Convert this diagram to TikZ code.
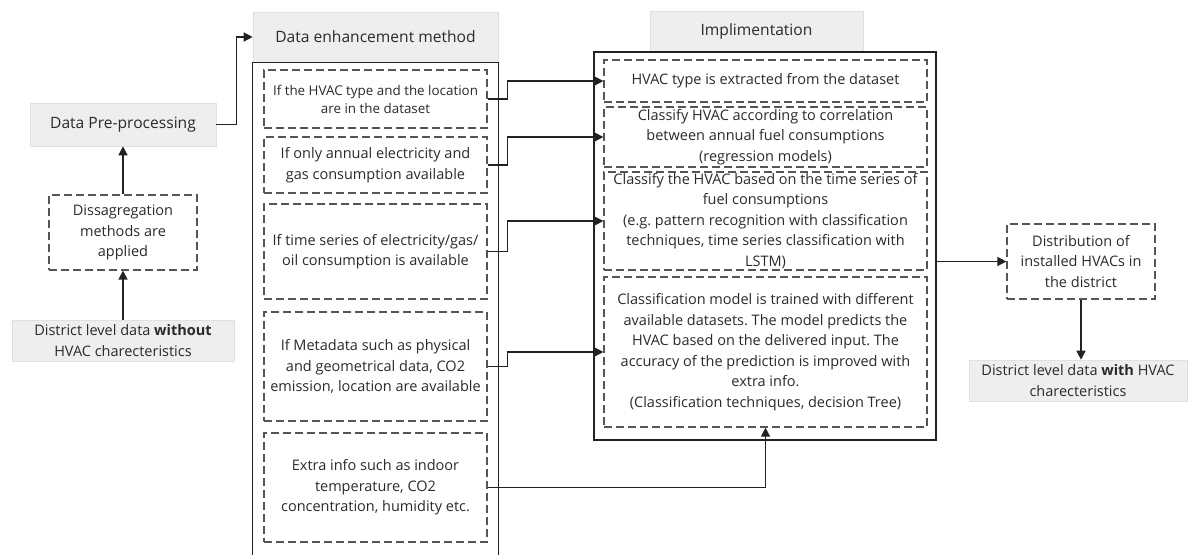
\documentclass[tikz,border=0pt]{standalone}
\usepackage{fontspec}
\setmainfont{Open Sans}
\usetikzlibrary{arrows.meta}
\frenchspacing
\definecolor{ink}{HTML}{2A2A2A}
\definecolor{panel}{HTML}{EEEEEE}
\definecolor{panelrule}{HTML}{E0E0E0}
\definecolor{dashink}{HTML}{555555}
\definecolor{wire}{HTML}{222222}
\tikzset{
  body/.style={font=\fontsize{14.5}{20.5}\selectfont, text=ink, align=center, inner sep=0pt},
  smallbody/.style={font=\fontsize{13.4}{18}\selectfont},
  head/.style={font=\fontsize{15.6}{20}\selectfont, text=ink, align=center, inner sep=0pt},
  panelbox/.style={fill=panel, draw=panelrule, line width=0.6pt},
  dashbox/.style={body, draw=dashink, line width=1.2pt, dash pattern=on 8pt off 4pt},
  frame/.style={draw=wire, line width=1.4pt},
  wirepath/.style={draw=wire, line width=1.4pt},
  feed/.style={wirepath, -{Triangle[length=9pt,width=9pt]}},
  boxsize/.style 2 args={minimum width=#1, minimum height=#2},
}
\begin{document}
\begin{tikzpicture}[x=1pt, y=-1pt]
\useasboundingbox (0,0) rectangle (1188,554);

% ---- input side ----
\node[panelbox, head, boxsize={186}{43}] (pre) at (123,124.5) {Data Pre-processing};
\node[dashbox, boxsize={148}{75}] (dis) at (123,232.5) {Dissagregation\\methods are\\applied};
\node[panelbox, body, boxsize={222}{41}] (wo) at (123,340.5)
  {District level data \textbf{without}\\HVAC charecteristics};

% ---- data enhancement column ----
\node[panelbox, head, boxsize={245}{50}] (hdr1) at (375.5,37) {Data enhancement method};
\draw[frame] (hdr1.south west |- 0,560) -- (hdr1.south west) -- (hdr1.south east) -- (hdr1.south east |- 0,560);

\node[dashbox, smallbody, boxsize={223}{58}] (l1) at (375.5,99)
  {If the HVAC type and the location\\are in the dataset};
\node[dashbox, boxsize={223}{56}] (l2) at (375.5,165)
  {If only annual electricity and\\gas consumption available};
\node[dashbox, boxsize={223}{95}] (l3) at (375.5,251.5)
  {If time series of electricity/gas/\\oil consumption is available};
\node[dashbox, boxsize={223}{109}] (l4) at (375.5,366.5)
  {If Metadata such as physical\\and geometrical data, CO2\\emission, location are available};
\node[dashbox, boxsize={223}{109}] (l5) at (375.5,487.5)
  {Extra info such as indoor\\temperature, CO2\\concentration, humidity etc.};

% ---- implementation column ----
\node[panelbox, head, boxsize={213}{41}] (hdr2) at (756.5,31.5) {Implimentation};
\node[frame, boxsize={342}{388}] (impl) at (765,246) {};

\node[dashbox, boxsize={323}{42}] (r1) at (765.5,81)
  {HVAC type is extracted from the dataset};
\node[dashbox, boxsize={323}{60}] (r2) at (765.5,137)
  {Classify HVAC according to correlation\\between annual fuel consumptions\\(regression models)};
\node[dashbox, boxsize={323}{98}] (r3) at (765.5,221)
  {Classify the HVAC based on the time series of\\fuel consumptions\\(e.g. pattern recognition with classification\\techniques, time series classification with\\LSTM)};
\node[dashbox, boxsize={323}{150}] (r4) at (765.5,352)
  {Classification model is trained with different\\available datasets. The model predicts the\\HVAC based on the delivered input. The\\accuracy of the prediction is improved with\\extra info.\\(Classification techniques, decision Tree)};

% ---- output side ----
\node[dashbox, boxsize={148}{75}] (dist) at (1081,261.5)
  {Distribution of\\installed HVACs in\\the district};
\node[panelbox, body, boxsize={218}{41}] (wi) at (1078,380.5)
  {District level data \textbf{with} HVAC\\charecteristics};

% ---- connectors ----
\draw[feed] (wo.north) -- (dis.south);
\draw[feed] (dis.north) -- (pre.south);
\draw[feed] (pre.east) -- ++(20,0) |- (hdr1.west);

\draw[feed] (l1.east) -- ++(20,0) |- (r1.west);
\draw[feed] (l2.east) -- ++(20,0) |- (r2.west);
\draw[feed] (l3.east) -- ++(20,0) |- (r3.west);
\draw[feed] (l4.east) -- ++(20,0) |- (r4.west);
\draw[feed] (l5.east) -| (r4.south);

\draw[feed] (impl.east |- dist.west) -- (dist.west);
\draw[feed] (dist.south) -- (dist.south |- wi.north);
\end{tikzpicture}
\end{document}
